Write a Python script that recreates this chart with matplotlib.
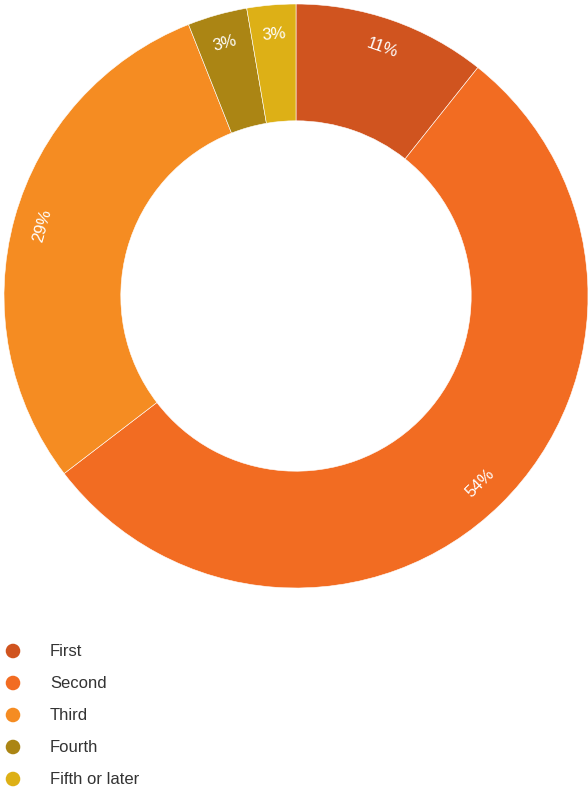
import matplotlib
matplotlib.use('Agg')
import matplotlib.pyplot as plt
import numpy as np

plt.rcParams['font.family'] = ['Liberation Sans', 'DejaVu Sans']

# data
categories = ['First', 'Second', 'Third', 'Fourth', 'Fifth or later']
shares = [10.7, 53.9, 29.4, 3.3, 2.7]
colors = ['#D0541F', '#F26C22', '#F58C22', '#AB8514', '#DDB016']

fig = plt.figure(figsize=(5.88, 7.90), dpi=100)

# donut
ax = fig.add_axes([4/588, 202/790, 584/588, 584/790])
wedges, _ = ax.pie(shares, colors=colors, startangle=90, counterclock=False,
                   radius=1.0, wedgeprops=dict(width=0.4, edgecolor='white', linewidth=0.4))
ax.set_xlim(-1, 1)
ax.set_ylim(-1, 1)
ax.set_aspect('equal')
ax.axis('off')

# labels along the ring, rotated to follow it
for w, v in zip(wedges, shares):
    mid = (w.theta1 + w.theta2) / 2
    r = 0.9
    x = r * np.cos(np.radians(mid))
    y = r * np.sin(np.radians(mid))
    rot = (mid % 180) - 90
    ax.text(x, y, '%d%%' % round(v), color='white', fontsize=12,
            ha='center', va='center', rotation=rot, rotation_mode='anchor')

# legend
lax = fig.add_axes([0, 0, 1, 1])
lax.set_xlim(0, 588)
lax.set_ylim(790, 0)
lax.axis('off')
ys = [651 + 32 * i for i in range(len(categories))]
lax.scatter([13] * len(categories), ys, s=110, c=colors, edgecolors='none')
for yy, name in zip(ys, categories):
    lax.text(50, yy, name, fontsize=12, color='#333333', va='center', ha='left')

fig.savefig('out.png', dpi=100)
